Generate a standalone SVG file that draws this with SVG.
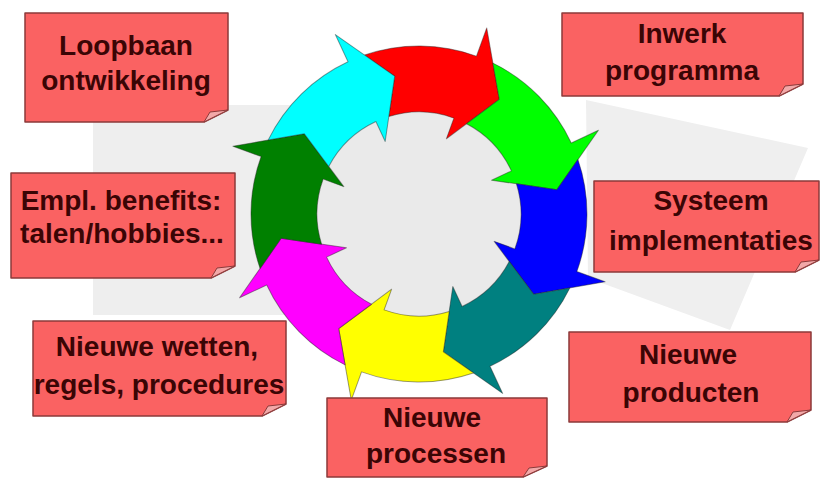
<svg xmlns="http://www.w3.org/2000/svg" width="822" height="478" viewBox="0 0 822 478">
<style>
.note{fill:#fa6262;stroke:#8c3a3a;stroke-width:1.5;stroke-linejoin:round}
.flap{fill:#f2a8a8;stroke:#8c3a3a;stroke-width:1;stroke-linejoin:round}
.lbl{font-family:"Liberation Sans",Arial,sans-serif;font-weight:bold;font-size:28px;fill:#3a0505;text-anchor:middle}
.arr{stroke:#222;stroke-opacity:.45;stroke-width:1;stroke-linejoin:round}
</style>
<defs>
<path id="arrow" d="M130.74,-105.51 A168,168 0 0 1 168,0 L198,0 L135.23,36.23 L80,0 L102,0 A102,102 0 0 0 81.20,-61.71 L121.24,-70 Z"/>
</defs>
<rect width="822" height="478" fill="#ffffff"/>
<g id="background">
<rect x="93" y="105" width="340" height="210" fill="#eeeeee"/>
<polygon points="586,100 808,148 730,330 588,278" fill="#efefef"/>
</g>
<g id="cycle">
<circle cx="419" cy="214" r="104" fill="#eaeaea"/>
<use href="#arrow" class="arr" fill="#ff0000" transform="translate(419 214) rotate(-70)"/>
<use href="#arrow" class="arr" fill="#00ff00" transform="translate(419 214) rotate(-25)"/>
<use href="#arrow" class="arr" fill="#0000ff" transform="translate(419 214) rotate(20)"/>
<use href="#arrow" class="arr" fill="#008080" transform="translate(419 214) rotate(65)"/>
<use href="#arrow" class="arr" fill="#ffff00" transform="translate(419 214) rotate(110)"/>
<use href="#arrow" class="arr" fill="#ff00ff" transform="translate(419 214) rotate(155)"/>
<use href="#arrow" class="arr" fill="#008000" transform="translate(419 214) rotate(200)"/>
<use href="#arrow" class="arr" fill="#00ffff" transform="translate(419 214) rotate(245)"/>
</g>
<g id="note-loopbaan">
<path class="note" d="M25,13 H228 V110 L204,122 H25 Z"/>
<path class="flap" d="M228,110 L204,122 L210,112 Z"/>
<text class="lbl" x="126" y="55">Loopbaan</text>
<text class="lbl" x="126" y="90">ontwikkeling</text>
</g>
<g id="note-inwerk">
<path class="note" d="M562,13 H803 V84 L779,96 H562 Z"/>
<path class="flap" d="M803,84 L779,96 L785,86 Z"/>
<text class="lbl" x="682" y="43">Inwerk</text>
<text class="lbl" x="682" y="80">programma</text>
</g>
<g id="note-systeem">
<path class="note" d="M594,181 H819 V260 L795,272 H594 Z"/>
<path class="flap" d="M819,260 L795,272 L801,262 Z"/>
<text class="lbl" x="711" y="210">Systeem</text>
<text class="lbl" x="711" y="250">implementaties</text>
</g>
<g id="note-empl">
<path class="note" d="M11,173 H235 V266 L211,278 H11 Z"/>
<path class="flap" d="M235,266 L211,278 L217,268 Z"/>
<text class="lbl" x="121" y="210">Empl. benefits:</text>
<text class="lbl" x="122" y="243">talen/hobbies...</text>
</g>
<g id="note-wetten">
<path class="note" d="M33,321 H286 V404 L262,416 H33 Z"/>
<path class="flap" d="M286,404 L262,416 L268,406 Z"/>
<text class="lbl" x="157" y="356">Nieuwe wetten,</text>
<text class="lbl" x="159" y="394">regels, procedures</text>
</g>
<g id="note-processen">
<path class="note" d="M327,398 H547 V466 L523,477 H327 Z"/>
<path class="flap" d="M547,466 L523,477 L529,468 Z"/>
<text class="lbl" x="432" y="427">Nieuwe</text>
<text class="lbl" x="436" y="463">processen</text>
</g>
<g id="note-producten">
<path class="note" d="M569,332 H811 V410 L787,422 H569 Z"/>
<path class="flap" d="M811,410 L787,422 L793,412 Z"/>
<text class="lbl" x="688" y="364">Nieuwe</text>
<text class="lbl" x="691" y="402">producten</text>
</g>
</svg>
